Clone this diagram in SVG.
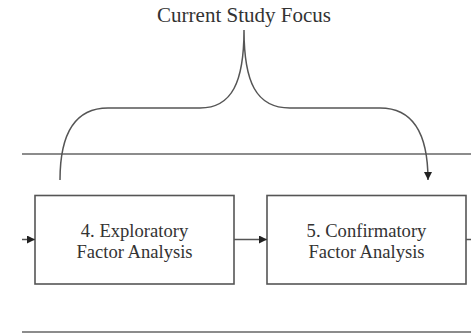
<svg xmlns="http://www.w3.org/2000/svg" width="471" height="334" viewBox="0 0 471 334">
<style>
.t{font-family:"Liberation Serif","Times New Roman",serif;fill:#333;text-anchor:middle}
.box{fill:#fff;stroke:#555;stroke-width:1.6}
.ln{fill:none;stroke:#555;stroke-width:1.5}
.rule{stroke:#666;stroke-width:1.6}
</style>
<defs>
<marker id="ah" viewBox="0 0 10 10" refX="10" refY="5" markerWidth="8" markerHeight="8" markerUnits="userSpaceOnUse" orient="auto">
<path d="M0,0 L10,5 L0,10 Z" fill="#222"/>
</marker>
</defs>
<g id="rules">
<line class="rule" x1="22" y1="154" x2="471" y2="154"/>
<line class="rule" x1="22" y1="332" x2="471" y2="332"/>
</g>
<g id="title"><text class="t" x="244" y="21.5" font-size="21">Current Study Focus</text></g>
<g id="node4">
<rect class="box" x="35" y="195.5" width="199" height="88.5"/>
<text class="t" x="134.5" y="236.5" font-size="18.6">4. Exploratory</text>
<text class="t" x="134.5" y="257.5" font-size="18.6">Factor Analysis</text>
</g>
<g id="node5">
<rect class="box" x="267" y="195.5" width="199" height="88.5"/>
<text class="t" x="366.5" y="236.5" font-size="18.6">5. Confirmatory</text>
<text class="t" x="366.5" y="257.5" font-size="18.6">Factor Analysis</text>
</g>
<g id="connectors">
<line class="ln" x1="22" y1="239.5" x2="35" y2="239.5" marker-end="url(#ah)"/>
<line class="ln" x1="234" y1="239.5" x2="267" y2="239.5" marker-end="url(#ah)"/>
<line class="ln" x1="466" y1="239.5" x2="471" y2="239.5"/>
<path class="ln" d="M60,180 C60,132 76,108 108,108 L200,108 C232,108 244,82 244,30 C244,82 256,108 290,108 L380,108 C412,108 428,132 428,180" marker-end="url(#ah)"/>
</g>
</svg>
